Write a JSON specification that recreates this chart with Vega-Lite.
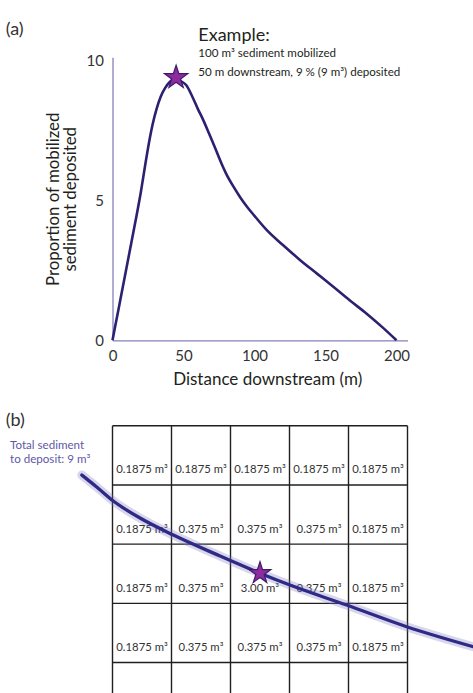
{
  "$schema": "https://vega.github.io/schema/vega-lite/v6.json",
  "width": 295,
  "height": 283,
  "autosize": {"type": "none"},
  "padding": {"left": 112.5, "top": 57.3, "right": 65.5, "bottom": 352.7},
  "background": "white",
  "config": {"view": {"stroke": null}, "font": "Lato"},
  "datasets": {
    "deposition": [
      {"distance": 0, "proportion": 0},
      {"distance": 4, "proportion": 1.05},
      {"distance": 8, "proportion": 2.1},
      {"distance": 12, "proportion": 3.15},
      {"distance": 16, "proportion": 4.2},
      {"distance": 20, "proportion": 5.3},
      {"distance": 23, "proportion": 6.25},
      {"distance": 25.5, "proportion": 7.0},
      {"distance": 28, "proportion": 7.65},
      {"distance": 31, "proportion": 8.25},
      {"distance": 34, "proportion": 8.7},
      {"distance": 37, "proportion": 9.0},
      {"distance": 40, "proportion": 9.2},
      {"distance": 44.5, "proportion": 9.32},
      {"distance": 48, "proportion": 9.25},
      {"distance": 52, "proportion": 9.1},
      {"distance": 56, "proportion": 8.72},
      {"distance": 60, "proportion": 8.27},
      {"distance": 64, "proportion": 7.85},
      {"distance": 68, "proportion": 7.38},
      {"distance": 72, "proportion": 6.9},
      {"distance": 76, "proportion": 6.4},
      {"distance": 80, "proportion": 5.95},
      {"distance": 85, "proportion": 5.5},
      {"distance": 90, "proportion": 5.1},
      {"distance": 95, "proportion": 4.75},
      {"distance": 100, "proportion": 4.44},
      {"distance": 108.5, "proportion": 3.94},
      {"distance": 120, "proportion": 3.4},
      {"distance": 132, "proportion": 2.87},
      {"distance": 144, "proportion": 2.38},
      {"distance": 155.5, "proportion": 1.91},
      {"distance": 167, "proportion": 1.43},
      {"distance": 179, "proportion": 0.95},
      {"distance": 190, "proportion": 0.47},
      {"distance": 200, "proportion": 0}
    ],
    "gridLines": [{"k": 0}, {"k": 1}, {"k": 2}, {"k": 3}, {"k": 4}, {"k": 5}],
    "cells": [
      {"col": 0.5, "row": 0.5, "volume": 0.1875, "label": "0.1875 m³"},
      {"col": 1.5, "row": 0.5, "volume": 0.1875, "label": "0.1875 m³"},
      {"col": 2.5, "row": 0.5, "volume": 0.1875, "label": "0.1875 m³"},
      {"col": 3.5, "row": 0.5, "volume": 0.1875, "label": "0.1875 m³"},
      {"col": 4.5, "row": 0.5, "volume": 0.1875, "label": "0.1875 m³"},
      {"col": 0.5, "row": 1.5, "volume": 0.1875, "label": "0.1875 m³"},
      {"col": 1.5, "row": 1.5, "volume": 0.375, "label": "0.375 m³"},
      {"col": 2.5, "row": 1.5, "volume": 0.375, "label": "0.375 m³"},
      {"col": 3.5, "row": 1.5, "volume": 0.375, "label": "0.375 m³"},
      {"col": 4.5, "row": 1.5, "volume": 0.1875, "label": "0.1875 m³"},
      {"col": 0.5, "row": 2.5, "volume": 0.1875, "label": "0.1875 m³"},
      {"col": 1.5, "row": 2.5, "volume": 0.375, "label": "0.375 m³"},
      {"col": 2.5, "row": 2.5, "volume": 3.0, "label": "3.00 m³"},
      {"col": 3.5, "row": 2.5, "volume": 0.375, "label": "0.375 m³"},
      {"col": 4.5, "row": 2.5, "volume": 0.1875, "label": "0.1875 m³"},
      {"col": 0.5, "row": 3.5, "volume": 0.1875, "label": "0.1875 m³"},
      {"col": 1.5, "row": 3.5, "volume": 0.375, "label": "0.375 m³"},
      {"col": 2.5, "row": 3.5, "volume": 0.375, "label": "0.375 m³"},
      {"col": 3.5, "row": 3.5, "volume": 0.375, "label": "0.375 m³"},
      {"col": 4.5, "row": 3.5, "volume": 0.1875, "label": "0.1875 m³"}
    ],
    "flowPath": [
      {"step": 1, "col": -0.52, "row": 0.833},
      {"step": 2, "col": -0.268, "row": 1.035},
      {"step": 3, "col": 0.014, "row": 1.272},
      {"step": 4, "col": 0.466, "row": 1.559},
      {"step": 5, "col": 1.031, "row": 1.846},
      {"step": 6, "col": 1.822, "row": 2.2},
      {"step": 7, "col": 2.5, "row": 2.49},
      {"step": 8, "col": 3.008, "row": 2.691},
      {"step": 9, "col": 3.969, "row": 3.029},
      {"step": 10, "col": 4.986, "row": 3.395},
      {"step": 11, "col": 6.115, "row": 3.733}
    ]
  },
  "resolve": {"scale": {"x": "independent", "y": "independent"}},
  "layer": [
    {
      "layer": [
        {
          "data": {"name": "deposition"},
          "mark": {"type": "line", "interpolate": "monotone", "color": "#2b2170", "strokeWidth": 2.6},
          "encoding": {
            "x": {
              "field": "distance", "type": "quantitative",
              "scale": {"domain": [0, 207.75], "nice": false, "zero": false},
              "axis": {
                "values": [0, 50, 100, 150, 200], "grid": false, "ticks": false,
                "labelFlush": false, "labelPadding": 8, "labelFontSize": 15, "labelColor": "#333333",
                "domainColor": "#8581bd", "domainWidth": 1.3,
                "title": "Distance downstream (m)", "titleFontSize": 17, "titleFontWeight": "normal",
                "titleColor": "#231f20", "titleX": 154.7, "titleY": 43.7, "titleAlign": "center",
                "titleBaseline": "alphabetic"
              }
            },
            "y": {
              "field": "proportion", "type": "quantitative",
              "scale": {"domain": [0, 10.1], "nice": false},
              "axis": {
                "values": [0, 5, 10], "grid": false, "ticks": false,
                "labelFlush": false, "labelPadding": 9, "labelFontSize": 15, "labelColor": "#333333",
                "domainColor": "#8581bd", "domainWidth": 1.3,
                "title": ["Proportion of mobilized", "sediment deposited"],
                "titleFontSize": 16.8, "titleFontWeight": "normal", "titleColor": "#231f20",
                "titleX": -59.5, "titleY": 141.5, "titleAngle": -90, "titleAlign": "center",
                "titleBaseline": "middle", "titleLineHeight": 17.5
              }
            }
          }
        },
        {
          "data": {"values": [{}]},
          "mark": {
            "type": "point", "filled": true, "opacity": 1, "size": 600,
            "shape": "M0,-1L0.2245,-0.309L0.9511,-0.309L0.3633,0.118L0.5878,0.809L0,0.382L-0.5878,0.809L-0.3633,0.118L-0.9511,-0.309L-0.2245,-0.309Z",
            "fill": "#8e2b9e", "stroke": "#3d1c6e", "strokeWidth": 1.2
          },
          "encoding": {
            "x": {"datum": 44.8, "type": "quantitative"},
            "y": {"datum": 9.38, "type": "quantitative"}
          }
        },
        {
          "data": {"values": [{}]},
          "mark": {"type": "text", "text": "(a)", "align": "left", "baseline": "alphabetic", "fontSize": 18, "color": "#333333"},
          "encoding": {
            "x": {"datum": -75.2, "type": "quantitative"},
            "y": {"datum": 10.88, "type": "quantitative"}
          }
        },
        {
          "data": {"values": [{}]},
          "mark": {"type": "text", "text": "Example:", "align": "left", "baseline": "alphabetic", "fontSize": 18, "color": "#231f20"},
          "encoding": {
            "x": {"datum": 60.4, "type": "quantitative"},
            "y": {"datum": 10.69, "type": "quantitative"}
          }
        },
        {
          "data": {"values": [{}]},
          "mark": {"type": "text", "text": "100 m³ sediment mobilized", "align": "left", "baseline": "alphabetic", "fontSize": 11.6, "color": "#231f20"},
          "encoding": {
            "x": {"datum": 60.4, "type": "quantitative"},
            "y": {"datum": 10.1, "type": "quantitative"}
          }
        },
        {
          "data": {"values": [{}]},
          "mark": {"type": "text", "text": "50 m downstream, 9 % (9 m³) deposited", "align": "left", "baseline": "alphabetic", "fontSize": 11.6, "color": "#231f20"},
          "encoding": {
            "x": {"datum": 60.4, "type": "quantitative"},
            "y": {"datum": 9.43, "type": "quantitative"}
          }
        }
      ]
    },
    {
      "layer": [
        {
          "data": {"name": "gridLines"},
          "mark": {"type": "rule", "color": "#231f20", "strokeWidth": 1.4},
          "encoding": {
            "x": {"field": "k", "type": "quantitative", "scale": {"domain": [0, 5], "nice": false, "zero": false}, "axis": null},
            "y": {"datum": 0, "type": "quantitative", "scale": {"domain": [-6.223, -1.443], "nice": false, "zero": false, "reverse": true}, "axis": null},
            "y2": {"datum": 5}
          }
        },
        {
          "data": {"name": "gridLines"},
          "mark": {"type": "rule", "color": "#231f20", "strokeWidth": 1.4},
          "encoding": {
            "y": {"field": "k", "type": "quantitative"},
            "x": {"datum": 0, "type": "quantitative"},
            "x2": {"datum": 5}
          }
        },
        {
          "data": {"name": "cells"},
          "mark": {"type": "text", "fontSize": 11.3, "color": "#333333", "baseline": "middle", "dy": 15},
          "encoding": {
            "x": {"field": "col", "type": "quantitative"},
            "y": {"field": "row", "type": "quantitative"},
            "text": {"field": "label"}
          }
        },
        {
          "data": {"name": "flowPath"},
          "mark": {"type": "line", "interpolate": "monotone", "color": "#7d77c4", "strokeWidth": 9, "opacity": 0.3, "strokeCap": "round"},
          "encoding": {
            "x": {"field": "col", "type": "quantitative"},
            "y": {"field": "row", "type": "quantitative"},
            "order": {"field": "step"}
          }
        },
        {
          "data": {"name": "flowPath"},
          "mark": {"type": "line", "interpolate": "monotone", "color": "#2e2a85", "strokeWidth": 3.3, "strokeCap": "round"},
          "encoding": {
            "x": {"field": "col", "type": "quantitative"},
            "y": {"field": "row", "type": "quantitative"},
            "order": {"field": "step"}
          }
        },
        {
          "data": {"values": [{}]},
          "mark": {
            "type": "point", "filled": true, "opacity": 1, "size": 520,
            "shape": "M0,-1L0.2245,-0.309L0.9511,-0.309L0.3633,0.118L0.5878,0.809L0,0.382L-0.5878,0.809L-0.3633,0.118L-0.9511,-0.309L-0.2245,-0.309Z",
            "fill": "#8e2b9e", "stroke": "#3d1c6e", "strokeWidth": 1.2
          },
          "encoding": {
            "x": {"datum": 2.5, "type": "quantitative"},
            "y": {"datum": 2.49, "type": "quantitative"}
          }
        },
        {
          "data": {"values": [{}]},
          "mark": {"type": "text", "text": "(b)", "align": "left", "baseline": "alphabetic", "fontSize": 18, "color": "#333333"},
          "encoding": {
            "x": {"datum": -1.81, "type": "quantitative"},
            "y": {"datum": 0.0, "type": "quantitative"}
          }
        },
        {
          "data": {"values": [{}]},
          "mark": {"type": "text", "text": ["Total sediment", "to deposit: 9 m³"], "align": "left", "baseline": "alphabetic", "fontSize": 11.6, "lineHeight": 14, "color": "#5f57a8"},
          "encoding": {
            "x": {"datum": -1.737, "type": "quantitative"},
            "y": {"datum": 0.399, "type": "quantitative"}
          }
        }
      ]
    }
  ]
}
